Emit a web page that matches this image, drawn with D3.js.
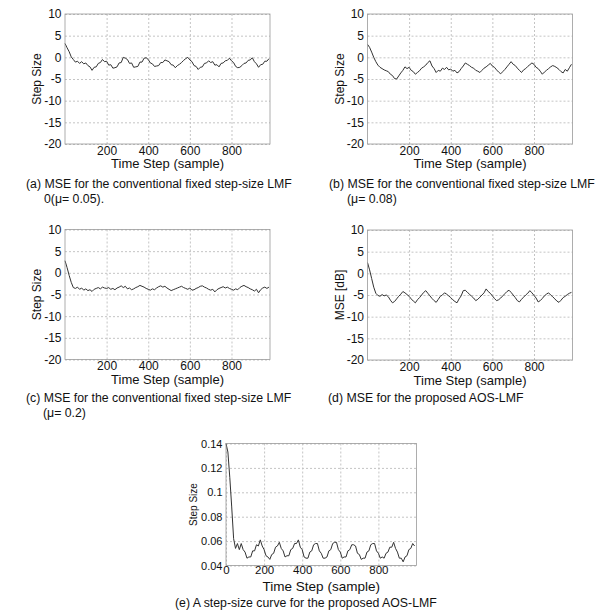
<!DOCTYPE html>
<html>
<head>
<meta charset="utf-8">
<script src="https://cdn.jsdelivr.net/npm/d3@7"></script>
<style>
  body { margin: 0; background: #fff; }
  svg { display: block; font-family: "Liberation Sans", Arial, sans-serif; }
</style>
</head>
<body>
<svg id="fig" width="600" height="615"></svg>
<script>
// one stored value every 10 samples
const timeStep = d3.range(0, 1000, 10);

// (a) fixed step LMF, mu = 0.05
const mseA = [
  3.2, 2.2, 1.3, 0.1, -0.5, -1.1, -0.9, -1.4, -1.0, -1.5,
  -1.3, -1.9, -2.2, -3.0, -2.3, -2.2, -1.4, -1.2, -0.5, -1.0,
  -0.9, -1.8, -1.7, -2.5, -2.4, -2.2, -1.3, -1.2, 0.0, -0.2,
  -0.5, -1.4, -1.3, -2.3, -2.2, -2.1, -1.1, -1.1, -0.2, -0.1,
  -0.5, -1.3, -1.5, -2.1, -2.0, -1.9, -1.2, -1.2, -0.6, -0.8,
  -1.0, -1.7, -1.8, -2.4, -1.9, -1.6, -1.2, -0.7, -0.3, 0.0,
  -0.6, -1.0, -1.9, -2.1, -2.8, -2.3, -2.2, -1.4, -1.3, -0.8,
  -1.2, -1.0, -1.8, -1.7, -2.2, -1.4, -1.3, -0.8, -0.7, -0.2,
  -0.8, -1.2, -2.1, -2.4, -2.3, -1.9, -1.4, -1.3, -0.7, -0.6,
  -0.1, -1.0, -1.5, -2.3, -1.7, -1.6, -0.9, -0.9, -0.3
];

// (b) fixed step LMF, mu = 0.08
const mseB = [
  3.0, 2.3, 1.2, 0.0, -1.0, -1.8, -2.3, -2.6, -2.9, -3.1,
  -3.3, -3.9, -4.2, -4.9, -5.0, -4.3, -3.6, -3.0, -2.2, -2.6,
  -2.3, -3.0, -3.3, -3.9, -3.5, -3.1, -2.5, -2.2, -1.8, -1.2,
  -0.8, -2.0, -2.6, -3.5, -3.0, -3.2, -2.5, -2.8, -2.3, -2.9,
  -2.7, -3.2, -3.0, -3.6, -3.3, -2.6, -2.0, -1.3, -1.6, -1.9,
  -2.3, -2.5, -3.0, -3.2, -3.5, -3.0, -2.5, -2.2, -1.8, -1.4,
  -2.0, -2.3, -2.9, -3.4, -3.8, -3.3, -2.8, -2.2, -1.6, -1.0,
  -1.6, -1.9, -2.5, -3.0, -3.5, -2.9, -2.6, -2.1, -1.7, -1.3,
  -1.6, -2.3, -2.6, -3.2, -3.9, -3.4, -3.0, -2.6, -2.2, -1.9,
  -2.1, -2.4, -2.8, -3.3, -3.6, -2.8, -3.2, -2.4, -1.6
];

// (c) fixed step LMF, mu = 0.2
const mseC = [
  2.8, 1.2, -0.6, -2.2, -3.4, -3.6, -3.3, -3.8, -3.5, -4.0,
  -3.7, -4.1, -3.9, -4.3, -3.8, -3.6, -3.4, -3.7, -3.3, -3.5,
  -3.6, -3.4, -3.8, -3.6, -3.9, -3.5, -3.3, -3.0, -3.4, -3.1,
  -3.7, -3.5, -3.9, -3.7, -3.4, -3.2, -2.9, -3.1, -3.3, -3.6,
  -3.8, -4.0, -3.7, -3.9, -3.5, -3.2, -3.0, -3.3, -3.1, -3.5,
  -3.8, -4.1, -3.9, -3.7, -3.5, -3.3, -3.1, -3.4, -3.6, -3.8,
  -3.5, -4.0, -3.9, -3.6, -3.4, -3.1, -3.0, -3.3, -3.5, -3.8,
  -4.0, -3.8, -4.4, -3.9, -3.6, -3.4, -3.2, -3.5, -3.3, -3.6,
  -3.8, -4.0, -3.7, -3.9, -3.4, -3.1, -2.9, -3.2, -3.4, -3.7,
  -3.9, -4.2, -3.8, -4.6, -3.9, -3.5, -3.3, -3.6, -3.3
];

// (d) proposed AOS-LMF
const mseD = [
  2.5, 0.8, -1.2, -3.2, -4.6, -5.1, -5.3, -4.9, -5.2, -5.0,
  -5.4, -6.2, -6.8, -6.5, -5.9, -5.3, -4.8, -4.2, -4.5, -4.9,
  -5.3, -5.9, -6.4, -6.8, -6.1, -5.6, -5.0, -4.4, -4.0, -4.6,
  -5.2, -5.8, -6.3, -6.7, -6.0, -5.3, -5.0, -4.5, -4.8, -5.2,
  -5.6, -6.1, -6.5, -6.8, -5.9, -5.2, -4.0, -3.9, -4.4, -4.8,
  -5.3, -5.7, -6.3, -6.0, -5.5, -5.0, -4.5, -3.6, -4.2, -4.6,
  -5.2, -5.8, -6.3, -6.1, -5.7, -5.2, -4.7, -4.2, -3.9, -4.4,
  -5.0, -5.6, -6.3, -6.6, -6.0, -5.5, -5.0, -4.6, -4.0, -4.5,
  -5.1, -5.7, -6.6, -6.3, -5.8, -5.2, -4.8, -4.5, -5.0, -5.4,
  -5.9, -6.4, -6.7, -6.2, -5.6, -5.3, -4.9, -4.6, -4.4
];

// (e) step-size of AOS-LMF
const stepE = [
  0.140, 0.133, 0.112, 0.088, 0.062, 0.054, 0.058, 0.053, 0.058, 0.053,
  0.051, 0.046, 0.047, 0.047, 0.052, 0.052, 0.057, 0.056, 0.061, 0.056,
  0.053, 0.048, 0.047, 0.045, 0.049, 0.050, 0.055, 0.056, 0.059, 0.054,
  0.052, 0.047, 0.048, 0.048, 0.053, 0.054, 0.058, 0.058, 0.061, 0.055,
  0.053, 0.047, 0.046, 0.046, 0.051, 0.052, 0.057, 0.058, 0.058, 0.052,
  0.050, 0.046, 0.046, 0.047, 0.052, 0.053, 0.058, 0.059, 0.059, 0.053,
  0.051, 0.046, 0.047, 0.047, 0.052, 0.053, 0.057, 0.057, 0.056, 0.050,
  0.049, 0.045, 0.046, 0.046, 0.051, 0.052, 0.057, 0.058, 0.058, 0.052,
  0.050, 0.046, 0.047, 0.046, 0.050, 0.051, 0.055, 0.055, 0.059, 0.054,
  0.051, 0.046, 0.046, 0.043, 0.047, 0.048, 0.053, 0.054, 0.058, 0.056
];

// tick labels
const mseTicks = [-20, -15, -10, -5, 0, 5, 10];
const timeTicks = [200, 400, 600, 800];
const stepTicks = [0.04, 0.06, 0.08, 0.1, 0.12, 0.14];
const stepTimeTicks = [0, 200, 400, 600, 800];

const svg = d3.select('#fig');

const panels = [
  { data: mseA, left: 65, right: 270, top: 14, bottom: 144,
    xDomain: [0, 985], yDomain: [-20, 10], xTicks: timeTicks, yTicks: mseTicks,
    yLabel: 'Step Size', yLabelDx: 24, yLabelSize: 12, tickSize: 12, tickPad: 2, yTickSize: 12,
    xLabelSize: 13, xLabelDy: 24,
    caption: ['(a) MSE for the conventional fixed step-size LMF', '0(\u03bc= 0.05).'],
    capX: 26, capX2: 44, capY: 187.5 },
  { data: mseB, left: 367.5, right: 572.5, top: 14, bottom: 144,
    xDomain: [0, 985], yDomain: [-20, 10], xTicks: timeTicks, yTicks: mseTicks,
    yLabel: 'Step Size', yLabelDx: 24, yLabelSize: 12, tickSize: 12, tickPad: 2, yTickSize: 12,
    xLabelSize: 13, xLabelDy: 24,
    caption: ['(b) MSE for the conventional fixed step-size LMF', '(\u03bc= 0.08)'],
    capX: 329, capX2: 347, capY: 187.5 },
  { data: mseC, left: 65, right: 270, top: 229.5, bottom: 359.5,
    xDomain: [0, 985], yDomain: [-20, 10], xTicks: timeTicks, yTicks: mseTicks,
    yLabel: 'Step Size', yLabelDx: 24, yLabelSize: 12, tickSize: 12, tickPad: 2, yTickSize: 12,
    xLabelSize: 13, xLabelDy: 24.5,
    caption: ['(c) MSE for the conventional fixed step-size LMF', '(\u03bc= 0.2)'],
    capX: 26, capX2: 43, capY: 401.5 },
  { data: mseD, left: 367.5, right: 572.5, top: 230, bottom: 360,
    xDomain: [0, 985], yDomain: [-20, 10], xTicks: timeTicks, yTicks: mseTicks,
    yLabel: 'MSE [dB]', yLabelDx: 24, yLabelSize: 12, tickSize: 12, tickPad: 2, yTickSize: 12,
    xLabelSize: 13, xLabelDy: 24.5,
    caption: ['(d) MSE for the proposed AOS-LMF'],
    capX: 328, capX2: 328, capY: 402 },
  { data: stepE, left: 226, right: 416.5, top: 443.5, bottom: 565.5,
    xDomain: [0, 1000], yDomain: [0.04, 0.14], xTicks: stepTimeTicks, yTicks: stepTicks,
    yLabel: 'Step Size', yLabelDx: 29.5, yLabelSize: 10, tickSize: 11.5, tickPad: 0.5, yTickSize: 11,
    xLabelSize: 13.5, xLabelDy: 25.5,
    caption: ['(e) A step-size curve for the proposed AOS-LMF'],
    capX: 175, capX2: 175, capY: 606.5 },
];

const drawPanel = p => {
  const g = svg.append('g');
  const w = p.right - p.left, h = p.bottom - p.top;

  const x = d3.scaleLinear().domain(p.xDomain).range([p.left, p.right]);
  const y = d3.scaleLinear().domain(p.yDomain).range([p.bottom, p.top]);

  // dashed grid
  g.append('g')
    .attr('transform', `translate(0,${p.bottom})`)
    .call(d3.axisBottom(x).tickValues(p.xTicks).tickSize(-h).tickFormat(''))
    .call(a => a.select('.domain').remove())
    .selectAll('line')
    .attr('stroke', '#c4c4c4')
    .attr('stroke-dasharray', '2,2');

  g.append('g')
    .attr('transform', `translate(${p.left},0)`)
    .call(d3.axisLeft(y).tickValues(p.yTicks).tickSize(-w).tickFormat(''))
    .call(a => a.select('.domain').remove())
    .selectAll('line')
    .attr('stroke', '#c4c4c4')
    .attr('stroke-dasharray', '2,2');

  // curve
  const line = d3.line()
    .x((d, i) => x(timeStep[i]))
    .y(d => y(d));

  g.append('path')
    .datum(p.data)
    .attr('fill', 'none')
    .attr('stroke', '#333')
    .attr('stroke-width', 1)
    .attr('d', line);

  // box
  g.append('rect')
    .attr('x', p.left).attr('y', p.top)
    .attr('width', w).attr('height', h)
    .attr('fill', 'none')
    .attr('stroke', '#999')
    .attr('stroke-width', 0.8);

  // tick labels (plain hyphen for negatives, as in the figure)
  g.append('g')
    .attr('transform', `translate(0,${p.bottom})`)
    .call(d3.axisBottom(x).tickValues(p.xTicks).tickSize(0).tickPadding(p.tickPad)
      .tickFormat(d => String(d)))
    .call(a => a.select('.domain').remove())
    .selectAll('text')
    .attr('fill', '#111')
    .style('font-size', `${p.tickSize}px`)
    .style('font-family', '"Liberation Sans", Arial, sans-serif');

  g.append('g')
    .attr('transform', `translate(${p.left},0)`)
    .call(d3.axisLeft(y).tickValues(p.yTicks).tickSize(0).tickPadding(3.5)
      .tickFormat(d => String(d)))
    .call(a => a.select('.domain').remove())
    .selectAll('text')
    .attr('fill', '#111')
    .style('font-size', `${p.yTickSize}px`)
    .style('font-family', '"Liberation Sans", Arial, sans-serif');

  // axis titles
  g.append('text')
    .attr('x', (p.left + p.right) / 2)
    .attr('y', p.bottom + p.xLabelDy)
    .attr('text-anchor', 'middle')
    .style('font-size', `${p.xLabelSize}px`)
    .attr('fill', '#111')
    .text('Time Step (sample)');

  g.append('text')
    .attr('transform', `translate(${p.left - p.yLabelDx},${(p.top + p.bottom) / 2}) rotate(-90)`)
    .attr('text-anchor', 'middle')
    .style('font-size', `${p.yLabelSize}px`)
    .attr('fill', '#111')
    .text(p.yLabel);

  // caption
  p.caption.forEach((c, i) => {
    g.append('text')
      .attr('x', i === 0 ? p.capX : p.capX2)
      .attr('y', p.capY + i * 15.5)
      .style('font-size', '12.3px')
      .attr('fill', '#111')
      .text(c);
  });
};

panels.forEach(drawPanel);
</script>
</body>
</html>
